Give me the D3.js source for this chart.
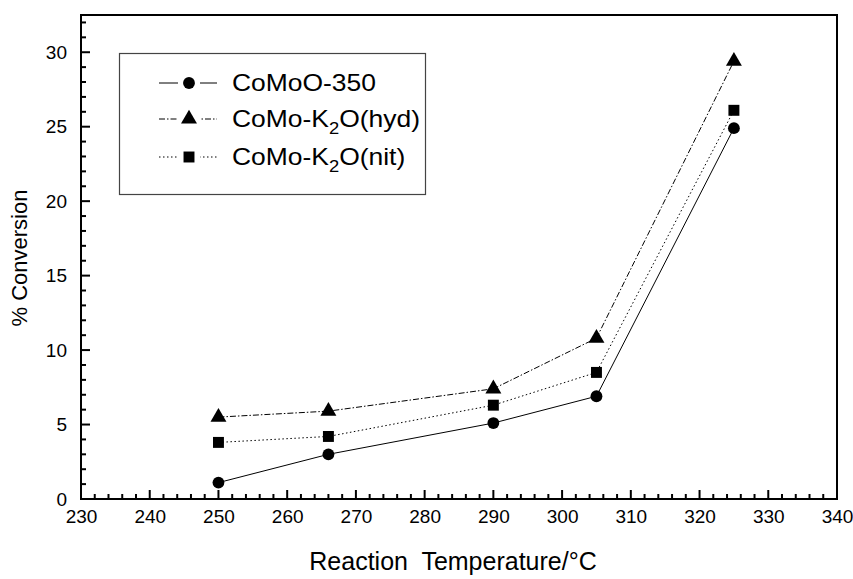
<!DOCTYPE html>
<html>
<head>
<meta charset="utf-8">
<script src="https://cdn.jsdelivr.net/npm/d3@7"></script>
<style>
  body { margin: 0; background: #fff; }
  text { font-family: "Liberation Sans", Arial, sans-serif; fill: #000; }
</style>
</head>
<body>
<svg id="chart" width="853" height="579"></svg>
<script>
// values
const temps = [250, 266, 290, 305, 325];
const comoo350 = [1.1, 3.0, 5.1, 6.9, 24.9];
const comoHyd = [5.5, 5.9, 7.4, 10.8, 29.4];
const comoNit = [3.8, 4.2, 6.3, 8.5, 26.1];
const xTicks = [230, 240, 250, 260, 270, 280, 290, 300, 310, 320, 330, 340];
const yTicks = [0, 5, 10, 15, 20, 25, 30];

const series = [
    { name: "CoMoO-350", values: comoo350, dash: null, symbol: d3.symbolCircle, size: 110 },
    { name: "CoMo-K2O(hyd)", values: comoHyd, dash: "6,2,1.5,2", symbol: d3.symbolTriangle, size: 110 },
    { name: "CoMo-K2O(nit)", values: comoNit, dash: "1.5,2.5", symbol: d3.symbolSquare, size: 120 }
];

const svg = d3.select("#chart");
const plot = { left: 81, right: 837, top: 15, bottom: 499 };

const x = d3.scaleLinear().domain([230, 340]).range([plot.left, plot.right]);
const y = d3.scaleLinear().domain([0, 32.5]).range([plot.bottom, plot.top]);

// frame
svg.append("rect")
    .attr("x", plot.left).attr("y", plot.top)
    .attr("width", plot.right - plot.left).attr("height", plot.bottom - plot.top)
    .attr("fill", "none").attr("stroke", "#000").attr("stroke-width", 2);

// inward ticks, drawn from the scales
const xAll = d3.range(230, 341, 2);
const yAll = d3.range(0, 33, 1);

svg.append("g").selectAll("line")
    .data(xAll)
    .join("line")
    .attr("x1", d => x(d)).attr("x2", d => x(d))
    .attr("y1", plot.bottom).attr("y2", d => plot.bottom - (d % 10 == 0 ? 9 : 5))
    .attr("stroke", "#000").attr("stroke-width", 2);

svg.append("g").selectAll("line")
    .data(yAll)
    .join("line")
    .attr("y1", d => y(d)).attr("y2", d => y(d))
    .attr("x1", plot.left).attr("x2", d => plot.left + (d % 5 == 0 ? 9 : 5))
    .attr("stroke", "#000").attr("stroke-width", 2);

// tick labels through the axis generators
svg.append("g")
    .attr("transform", `translate(0,${plot.bottom})`)
    .call(d3.axisBottom(x).tickValues(xTicks).tickSize(0).tickPadding(8))
    .call(g => g.select(".domain").remove())
    .call(g => g.selectAll("text").attr("font-size", 19).attr("dy", "0.85em"));

svg.append("g")
    .attr("transform", `translate(${plot.left},0)`)
    .call(d3.axisLeft(y).tickValues(yTicks).tickSize(0).tickPadding(14))
    .call(g => g.select(".domain").remove())
    .call(g => g.selectAll("text").attr("font-size", 19));

// axis titles
svg.append("text")
    .attr("x", 453).attr("y", 570)
    .attr("text-anchor", "middle").attr("font-size", 25)
    .style("white-space", "pre")
    .text("Reaction  Temperature/°C");

svg.append("text")
    .attr("transform", `translate(27,258) rotate(-90)`)
    .attr("text-anchor", "middle").attr("font-size", 22)
    .text("% Conversion");

// lines + markers
const line = d3.line().x((d, i) => x(temps[i])).y(d => y(d));

series.forEach(s => {
    svg.append("path")
        .datum(s.values)
        .attr("d", line)
        .attr("fill", "none").attr("stroke", "#000").attr("stroke-width", 1)
        .attr("stroke-dasharray", s.dash);
    svg.append("g").selectAll("path")
        .data(s.values)
        .join("path")
        .attr("transform", (d, i) => `translate(${x(temps[i])},${y(d)})`)
        .attr("d", d3.symbol().type(s.symbol).size(s.size))
        .attr("fill", "#000");
});

// legend
const legend = svg.append("g");
legend.append("rect")
    .attr("x", 119.5).attr("y", 53.5).attr("width", 306).attr("height", 141)
    .attr("fill", "#fff").attr("stroke", "#444").attr("stroke-width", 1.2);

const rowY = [83, 119, 157];
series.forEach((s, i) => {
    const g = legend.append("g").attr("transform", `translate(0,${rowY[i]})`);
    g.append("line").attr("x1", 159).attr("x2", 217).attr("y1", 0).attr("y2", 0)
        .attr("stroke", "#000").attr("stroke-width", 1).attr("stroke-dasharray", s.dash);
    g.append("rect").attr("x", 178).attr("y", -7).attr("width", 22).attr("height", 14).attr("fill", "#fff");
    g.append("path").attr("transform", "translate(189,0)")
        .attr("d", d3.symbol().type(s.symbol).size(s.size)).attr("fill", "#000");
    // the legend lettering is a little wider than plain Arial
    const t = g.append("text").attr("transform", "translate(232,8) scale(1.15,1)").attr("font-size", 23);
    if (s.name.includes("K2O")) {
        const parts = s.name.split("K2O");
        t.append("tspan").text(parts[0] + "K");
        t.append("tspan").attr("font-size", 16).attr("dy", 7).text("2");
        t.append("tspan").attr("dy", -7).text("O" + parts[1]);
    } else {
        t.text(s.name);
    }
});
</script>
</body>
</html>
